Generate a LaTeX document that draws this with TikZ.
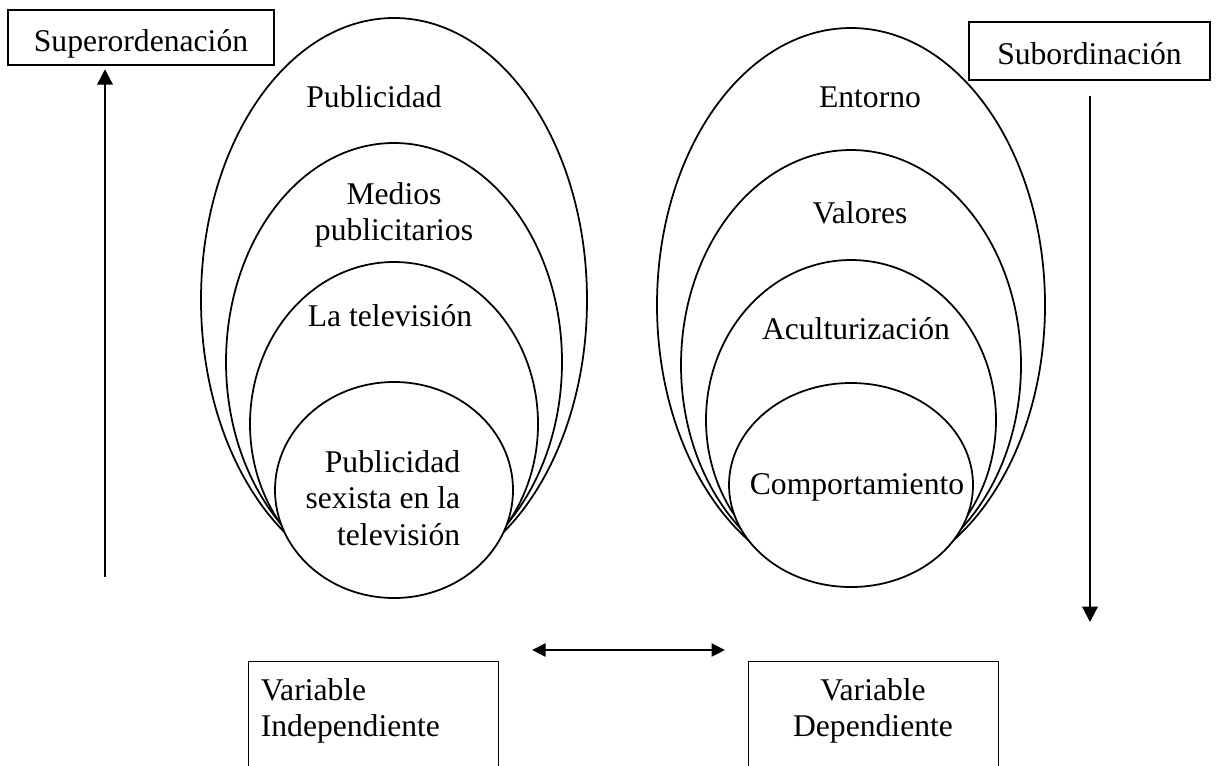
\documentclass[tikz,border=0pt]{standalone}
\usepackage{fontspec}
\setmainfont{Liberation Serif}
\usetikzlibrary{arrows.meta}

\begin{document}
\begin{tikzpicture}[x=0.02cm,y=-0.02cm,line width=1pt,>={Triangle[length=0.31cm,width=0.31cm]},
  every node/.style={font=\fontsize{18}{20.7}\selectfont,inner sep=0pt},
  box/.style={draw,line width=0.8pt,text height=0.6cm,text depth=0.05cm},
  ring/.style={draw,fill=white,line width=1pt}]
\useasboundingbox (0,0) rectangle (1217,765);
\clip (0,0) rectangle (1217,765);
  % nested rings, outer one first so the white fill hides the lower arcs
  \foreach \cx/\cy/\rx/\ry in {394/300/193/282,394/362/168/219,394/424/144/162,394/490/119/108,
      851/305/194/277,851/365/170/215,851/420/145/160,851/485/122/102}{
    \draw[ring] (\cx,\cy) ellipse [x radius=\rx,y radius=\ry];}
  % labels of the left rings
  \node (pub) at (374,97) {Publicidad};
  \node[align=center] (medios) at (394,215) {Medios\\publicitarios};
  \node (tele) at (390,316) {La televisi\'on};
  \node[align=right,anchor=east] (sexista) at (461,498) {Publicidad\\sexista en la\\televisi\'on};
  % labels of the right rings
  \node (entorno) at (870,97) {Entorno};
  \node (valores) at (860,213) {Valores};
  \node (acult) at (856,329) {Aculturizaci\'on};
  \node (comport) at (857,487) {Comportamiento};
  % boxes
  \node[box,minimum width=5.32cm,minimum height=1.1cm] (sup) at (141,37.5) {Superordenaci\'on};
  \node[box,minimum width=4.82cm,minimum height=1.16cm] (sub) at (1089.5,51) {Subordinaci\'on};
  \node[box,anchor=north west,minimum width=5cm,minimum height=2.8cm] (indbox) at (248,661) {};
  \node[box,anchor=north west,minimum width=5cm,minimum height=2.8cm] (depbox) at (748,661) {};
  \node[align=left,anchor=west] (ind) at (260,711) {Variable\\Independiente};
  \node[align=center] (dep) at (873,711) {Variable\\Dependiente};
  % arrows
  \coordinate (upfoot) at (105,577);
  \coordinate (downtip) at (1090,622);
  \coordinate (pairl) at (532,650);
  \coordinate (pairr) at (725,650);
  \draw[->,line width=1.3pt,shorten >=2pt] (upfoot) -- (upfoot |- sup.south);
  \draw[->,line width=1.3pt,shorten <=0.3cm] (sub.south -| downtip) -- (downtip);
  \draw[{Triangle[length=0.27cm,width=0.26cm]}-{Triangle[length=0.27cm,width=0.26cm]},line width=1.3pt]
    (pairl) -- (pairr);
\end{tikzpicture}
\end{document}
